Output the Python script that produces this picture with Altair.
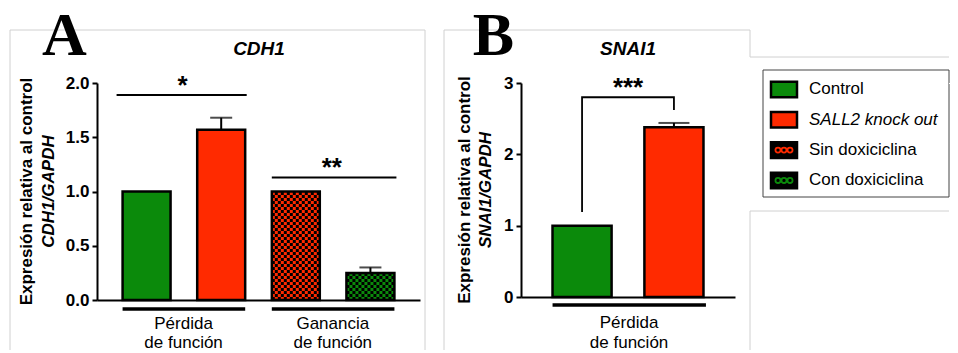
import math
import altair as alt
import pandas as pd

FONT = "Liberation Sans"
SERIF = "Liberation Serif"
GREEN = "#0b8a0b"
RED = "#ff2a00"
BORDER = "#d0d0d0"

# ---------------- data ----------------
cdh1_cats = ["Control", "SALL2 knock out", "Sin doxiciclina", "Con doxiciclina"]
cdh1_vals = [1.0, 1.57, 1.0, 0.25]
cdh1_err = [0.0, 0.11, 0.0, 0.05]
cdh1_fill = [GREEN, RED, RED, GREEN]
cdh1_checker = [False, False, True, True]
cdh1_ticks = [0.0, 0.5, 1.0, 1.5, 2.0]
cdh1_group_labels = ["Pérdida\nde función", "Ganancia\nde función"]
cdh1_group_start = ["Control", "Sin doxiciclina"]
cdh1_group_end = ["SALL2 knock out", "Con doxiciclina"]
cdh1_sig_text = ["*", "**"]
cdh1_sig_y = [1.89, 1.13]

snai1_cats = ["Control", "SALL2 knock out"]
snai1_vals = [1.0, 2.38]
snai1_err = [0.0, 0.06]
snai1_fill = [GREEN, RED]
snai1_ticks = [0, 1, 2, 3]
snai1_group_labels = ["Pérdida\nde función"]
snai1_bracket_x = ["Control", "Control", "SALL2 knock out", "SALL2 knock out"]
snai1_bracket_y = [1.19, 2.80, 2.80, 2.62]
snai1_sig_text = ["***"]

legend_labels = ["Control", "SALL2 knock out", "Sin doxiciclina", "Con doxiciclina"]
legend_fill = [GREEN, RED, "black", "black"]
legend_dots = ["", "", RED, GREEN]
legend_italic = [False, True, False, False]

# ---------------- helpers ----------------
PI, PO = 0.357, 0.343
one = pd.DataFrame({"k": [0]})


def xenc(field, cats):
    return alt.X(
        f"{field}:N",
        scale=alt.Scale(domain=cats, paddingInner=PI, paddingOuter=PO),
        axis=alt.Axis(title=None, labels=False, ticks=False, grid=False,
                      domainColor="black", domainWidth=2),
    )


def yenc(field, dom, ticks, fmt):
    return alt.Y(
        f"{field}:Q",
        scale=alt.Scale(domain=dom, nice=False, zero=True),
        axis=alt.Axis(title=None, values=ticks, format=fmt, grid=False,
                      domainColor="black", domainWidth=2, tickColor="black",
                      tickWidth=2, tickSize=5, labelFont=FONT,
                      labelFontWeight="bold", labelFontSize=17,
                      labelColor="black", labelPadding=3, labelFlush=False),
    )


def hline(x1, x2, y, color=BORDER, w=1):
    return alt.Chart(one).mark_rule(color=color, strokeWidth=w).encode(
        x=alt.value(x1), x2=alt.value(x2), y=alt.value(y))


def vline(x, y1, y2, color=BORDER, w=1):
    return alt.Chart(one).mark_rule(color=color, strokeWidth=w).encode(
        x=alt.value(x), y=alt.value(y1), y2=alt.value(y2))


def anchor(x, y):
    return alt.Chart(one).mark_rect(color="white").encode(
        x=alt.value(x), x2=alt.value(x + 1), y=alt.value(y), y2=alt.value(y + 1))


def label(text, x, y, size, weight="bold", style="normal", font=FONT,
          angle=0, baseline="middle"):
    return alt.Chart(one).mark_text(
        text=text, font=font, fontSize=size, fontWeight=weight,
        fontStyle=style, angle=angle, align="center", baseline=baseline,
        color="black").encode(x=alt.value(x), y=alt.value(y))


def bar_layers(cats, vals, err, fills, checker, dom, ticks, fmt, px_per_unit,
               cap):
    df = pd.DataFrame({"cat": cats, "v": vals, "fill": fills,
                       "top": [v + e for v, e in zip(vals, err)],
                       "err": err})
    xe = xenc("cat", cats)
    ye = yenc("v", dom, ticks, fmt)
    layers = [
        alt.Chart(df).mark_bar(strokeWidth=0).encode(
            x=xe, y=ye, color=alt.Color("fill:N", scale=None)),
    ]
    # checker texture cells
    rows = []
    ncol = 16
    h = 3.0 / px_per_unit
    for c, v, chk in zip(cats, vals, checker):
        if not chk:
            continue
        nrow = int(math.ceil(v / h))
        for r in range(nrow):
            for k in range(ncol):
                if (r + k) % 2 == 0:
                    rows.append({"cat": c, "col": k, "y0": r * h,
                                 "y1": min((r + 1) * h, v)})
    if rows:
        cells = pd.DataFrame(rows)
        layers.append(
            alt.Chart(cells).mark_bar(color="black", strokeWidth=0).encode(
                x=xe,
                xOffset=alt.XOffset("col:O", scale=alt.Scale(
                    paddingInner=0, paddingOuter=0)),
                y=yenc("y0", dom, ticks, fmt), y2="y1"))
    layers.append(
        alt.Chart(df).mark_bar(fillOpacity=0, stroke="black",
                               strokeWidth=2.5).encode(x=xe, y=ye))
    edf = df[df["err"] > 0]
    layers.append(alt.Chart(edf).mark_rule(color="black", strokeWidth=2).encode(
        x=xe, y=ye, y2="top"))
    layers.append(alt.Chart(edf).mark_tick(color="black", thickness=2,
                                           size=cap).encode(
        x=xe, y=yenc("top", dom, ticks, fmt)))
    return layers, xe


# ---------------- panel A ----------------
A_W, A_H = 323, 217
layA, xeA = bar_layers(cdh1_cats, cdh1_vals, cdh1_err, cdh1_fill,
                       cdh1_checker, [0, 2], cdh1_ticks, ".1f", A_H / 2, 22)

sigA = pd.DataFrame({"s": cdh1_group_start, "e": cdh1_group_end,
                     "y": cdh1_sig_y, "t": cdh1_sig_text})
grpA = pd.DataFrame({"s": cdh1_group_start, "e": cdh1_group_end,
                     "t": cdh1_group_labels})
yA = lambda f: yenc(f, [0, 2], cdh1_ticks, ".1f")

extraA = [
    anchor(-89, -85),
    hline(-87, 328, -53), vline(-87, -53, 267), vline(328, -53, 267),
    alt.Chart(sigA.iloc[[0]]).mark_rule(color="black", strokeWidth=2,
                                        xOffset=-30, x2Offset=25.5).encode(
        x=xenc("s", cdh1_cats), x2="e", y=yA("y")),
    alt.Chart(sigA.iloc[[1]]).mark_rule(color="black", strokeWidth=2,
                                        xOffset=-24, x2Offset=26).encode(
        x=xenc("s", cdh1_cats), x2="e", y=yA("y")),
    alt.Chart(sigA).mark_text(font=FONT, fontWeight="bold", fontSize=26,
                              dx=36, dy=-1, baseline="alphabetic",
                              color="black").encode(
        x=xenc("s", cdh1_cats), y=yA("y"), text="t:N"),
    alt.Chart(grpA).mark_rule(color="black", strokeWidth=3.5, xOffset=-24,
                              x2Offset=24).encode(
        x=xenc("s", cdh1_cats), x2="e", y=alt.value(226)),
    alt.Chart(grpA).mark_text(font=FONT, fontSize=17, dx=37, lineBreak="\n",
                              lineHeight=19, baseline="alphabetic",
                              color="black").encode(
        x=xenc("s", cdh1_cats), y=alt.value(246), text="t:N"),
    label("CDH1", 162, -34.5, 19, style="italic"),
    label("Expresión relativa al control", -70.5, 108.5, 17, angle=270),
    label("CDH1/GAPDH", -48.5, 108.5, 17, style="italic", angle=270),
    label("A", -32.5, -28, 62, font=SERIF, baseline="alphabetic"),
]
panelA = alt.layer(*(extraA[:4] + layA + extraA[4:])).properties(
    width=A_W, height=A_H)

# ---------------- panel B ----------------
B_W, B_H = 214, 214
RIGHT_B = 428  # page x 949
layB, xeB = bar_layers(snai1_cats, snai1_vals, snai1_err, snai1_fill,
                       [False, False], [0, 3], snai1_ticks, "d", B_H / 3, 31)
yB = lambda f: yenc(f, [0, 3], snai1_ticks, "d")
brB = pd.DataFrame({"c": snai1_bracket_x, "y": snai1_bracket_y,
                    "o": list(range(len(snai1_bracket_x)))})
sigB = pd.DataFrame({"s": [snai1_cats[0]], "y": [snai1_bracket_y[1]],
                     "t": snai1_sig_text})
grpB = pd.DataFrame({"s": [snai1_cats[0]], "e": [snai1_cats[1]],
                     "t": snai1_group_labels})
extraB = [
    vline(-77, -53, 267), hline(-77, 229, -53), vline(229, -53, -26),
    hline(229, RIGHT_B, -26), hline(229, RIGHT_B, 128), vline(229, 128, 267),
]
extraB2 = [
    alt.Chart(brB).mark_line(color="black", strokeWidth=1.8).encode(
        x=xenc("c", snai1_cats), y=yB("y"), order="o:Q"),
    alt.Chart(sigB).mark_text(font=FONT, fontWeight="bold", fontSize=26,
                              dx=46, dy=-1, baseline="alphabetic",
                              color="black").encode(
        x=xenc("s", snai1_cats), y=yB("y"), text="t:N"),
    alt.Chart(grpB).mark_rule(color="black", strokeWidth=3.5, xOffset=-29.5,
                              x2Offset=32).encode(
        x=xenc("s", snai1_cats), x2="e", y=alt.value(222)),
    alt.Chart(grpB).mark_text(font=FONT, fontSize=17, dx=47, lineBreak="\n",
                              lineHeight=20, baseline="alphabetic",
                              color="black").encode(
        x=xenc("s", snai1_cats), y=alt.value(245), text="t:N"),
    label("SNAI1", 107, -34.5, 19, style="italic"),
    label("Expresión relativa al control", -56, 107, 17, angle=270),
    label("SNAI1/GAPDH", -35, 107, 17, style="italic", angle=270),
    label("B", -27.5, -28, 62, font=SERIF, baseline="alphabetic"),
]
panelB = alt.layer(*(extraB + layB + extraB2)).properties(width=B_W, height=B_H)

# ---------------- legend panel ----------------
leg = pd.DataFrame({"lab": legend_labels, "fill": legend_fill,
                    "dot": legend_dots, "it": legend_italic})
ly = alt.Y("lab:N", scale=alt.Scale(domain=legend_labels, range=[-8.7, 112.6],
                                    paddingInner=0, paddingOuter=0), axis=None)
swatch_path = "M-1,-0.6L1,-0.6L1,0.6L-1,0.6Z"
dots = leg[leg["dot"] != ""]
ring_layers = [
    alt.Chart(dots).mark_point(shape="circle", size=26, filled=False,
                               strokeWidth=1.8, opacity=1).encode(
        x=alt.value(rx), y=ly, color=alt.Color("dot:N", scale=None))
    for rx in (-58, -52, -46)
]
legend = alt.layer(
    alt.Chart(one).mark_rect(fill="white", stroke="#444444", strokeWidth=1).encode(
        x=alt.value(-73), x2=alt.value(113), y=alt.value(-13), y2=alt.value(114)),
    anchor(113, 0),
    alt.Chart(leg).mark_point(shape=swatch_path, size=676, filled=True,
                              stroke="black", strokeWidth=2.5,
                              opacity=1).encode(
        x=alt.value(-52), y=ly, fill=alt.Fill("fill:N", scale=None)),
    *ring_layers,
    alt.Chart(leg[~leg["it"]]).mark_text(font=FONT, fontSize=17, align="left",
                                         baseline="middle", color="black").encode(
        x=alt.value(-27), y=ly, text="lab:N"),
    alt.Chart(leg[leg["it"]]).mark_text(font=FONT, fontSize=17, align="left",
                                        fontStyle="italic", baseline="middle",
                                        color="black").encode(
        x=alt.value(-27), y=ly, text="lab:N"),
).properties(width=100, height=100)

chart = alt.hconcat(panelA, panelB, legend, spacing=101, bounds="flush").properties(
    padding={"left": 0, "top": -10, "right": 0, "bottom": 0}
).configure(font=FONT).configure_view(stroke=None)

chart.save("out.html", embed_options={"renderer": "svg", "actions": False})
